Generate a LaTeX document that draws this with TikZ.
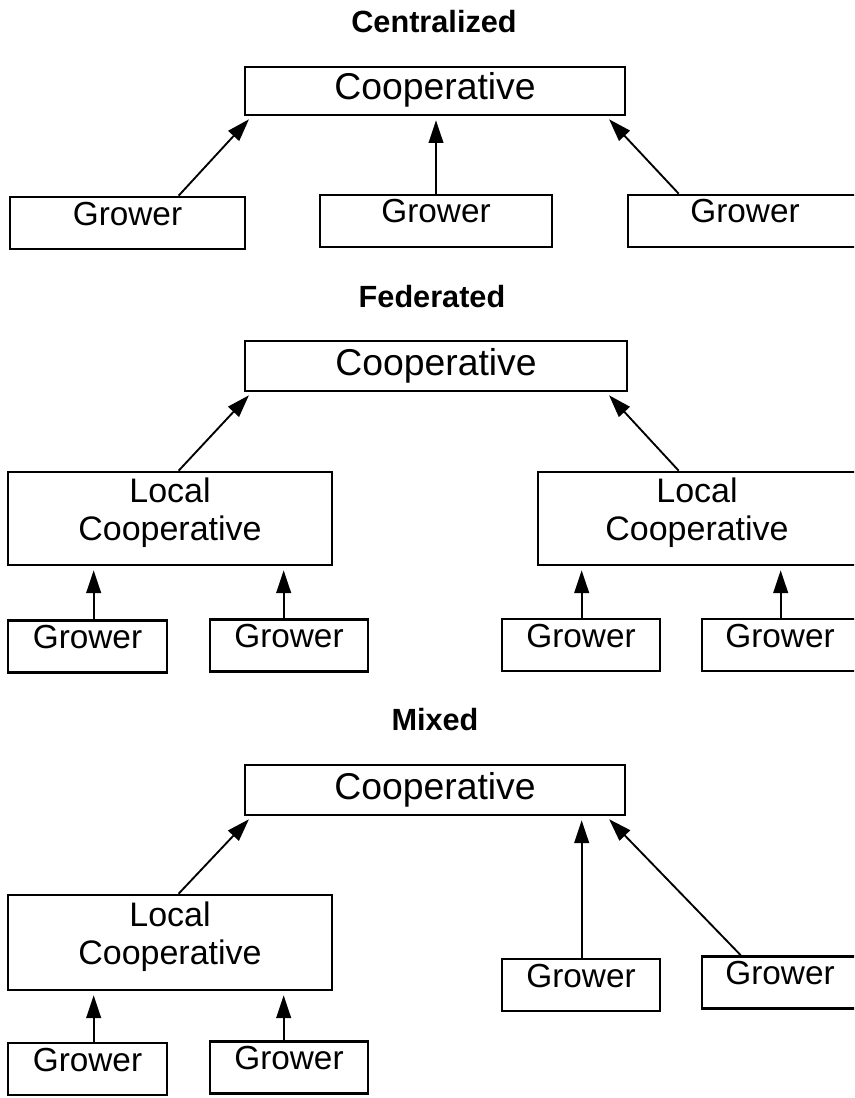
\documentclass[tikz,border=0pt]{standalone}
\usepackage{fontspec}
\setmainfont{Liberation Sans}
\usetikzlibrary{arrows.meta,calc}
\tikzset{
  x=0.75pt, y=-0.75pt,
  ttl/.style={font=\bfseries\fontsize{23pt}{27pt}\selectfont, inner sep=0pt},
  bigbox/.style={draw, line width=2pt, inner xsep=0pt, inner ysep=0pt,
    text height=24.75pt, text depth=11.25pt,
    font=\fontsize{28pt}{33pt}\selectfont},
  growbox/.style={draw, line width=2pt, inner xsep=0pt, inner ysep=0pt,
    text height=21pt, text depth=18pt,
    font=\fontsize{25pt}{29pt}\selectfont},
  localbox/.style={draw, line width=2pt, inner sep=0pt},
  localtext/.style={align=center, yshift=4.5pt, inner sep=0pt,
    font=\fontsize{25.5pt}{28.5pt}\selectfont},
  arr/.style={line width=1.4pt, -{Triangle[length=17pt,width=11pt]}, shorten >=3pt}
}
\begin{document}
\begin{tikzpicture}
\useasboundingbox (0,0) rectangle (854,1098);
\clip (0,0) rectangle (854,1098);

% ---------- Centralized ----------
\node[ttl] (t1) at (434,22) {Centralized};
\node[bigbox, minimum width=380*0.75pt] (c1) at (435,91) {Cooperative};
\node[growbox, minimum width=235*0.75pt] (g1) at (127.5,223) {Grower};
\node[growbox, minimum width=232*0.75pt] (g2) at (436,221) {Grower};
\node[growbox, minimum width=234*0.75pt] (g3) at (745,221) {Grower};
\draw[arr] ($(g1.north west)+(170,0)$) -- ($(c1.south west)+(8,0)$);
\draw[arr] (g2.north) -- (g2.north |- c1.south);
\draw[arr] ($(g3.north west)+(52,0)$) -- ($(c1.south east)+(-20,0)$);

% ---------- Federated ----------
\node[ttl] (t2) at (432,297) {Federated};
\node[bigbox, minimum width=382*0.75pt, minimum height=50*0.75pt] (c2) at (436,366) {Cooperative};
\node[localbox, minimum width=324*0.75pt, minimum height=93*0.75pt,
  label={[localtext]center:Local\\Cooperative}] (l1) at (170,518.5) {};
\node[localbox, minimum width=318*0.75pt, minimum height=93*0.75pt,
  label={[localtext]center:Local\\Cooperative}] (l2) at (697,518.5) {};
\draw[arr] ($(l1.north west)+(172,0)$) -- ($(c2.south west)+(8,0)$);
\draw[arr] ($(l2.north west)+(142,0)$) -- ($(c2.south east)+(-22,0)$);
\node[growbox, minimum width=159*0.75pt] (f1) at (87.5,646.5) {Grower};
\node[growbox, minimum width=158*0.75pt] (f2) at (289,645.5) {Grower};
\node[growbox, minimum width=158*0.75pt] (f3) at (581,645) {Grower};
\node[growbox, minimum width=156*0.75pt] (f4) at (780,645) {Grower};
\draw[arr] ($(f1.north west)+(87,0)$) -- ($(l1.south west)+(87,0)$);
\draw[arr] ($(f2.north west)+(75,0)$) -- ($(l1.south west)+(277,0)$);
\draw[arr] ($(f3.north west)+(81,0)$) -- ($(l2.south west)+(45,0)$);
\draw[arr] ($(f4.north west)+(80,0)$) -- ($(l2.south west)+(244,0)$);

% ---------- Mixed ----------
\node[ttl] (t3) at (435,720) {Mixed};
\node[bigbox, minimum width=380*0.75pt, minimum height=50*0.75pt] (c3) at (435,790) {Cooperative};
\node[localbox, minimum width=324*0.75pt, minimum height=95*0.75pt,
  label={[localtext]center:Local\\Cooperative}] (l3) at (170,942.5) {};
\draw[arr] ($(l3.north west)+(172,0)$) -- ($(c3.south west)+(8,0)$);
\node[growbox, minimum width=158*0.75pt] (m1) at (581,985) {Grower};
\node[growbox, minimum width=156*0.75pt] (m2) at (780,982.5) {Grower};
\draw[arr] ($(m1.north west)+(81,0)$) -- ($(c3.south west)+(338,0)$);
\draw[arr] ($(m2.north west)+(40,0)$) -- ($(c3.south east)+(-20,0)$);
\node[growbox, minimum width=159*0.75pt] (m3) at (87.5,1069) {Grower};
\node[growbox, minimum width=158*0.75pt] (m4) at (289,1067.5) {Grower};
\draw[arr] ($(m3.north west)+(87,0)$) -- ($(l3.south west)+(87,0)$);
\draw[arr] ($(m4.north west)+(75,0)$) -- ($(l3.south west)+(277,0)$);
\end{tikzpicture}
\end{document}
